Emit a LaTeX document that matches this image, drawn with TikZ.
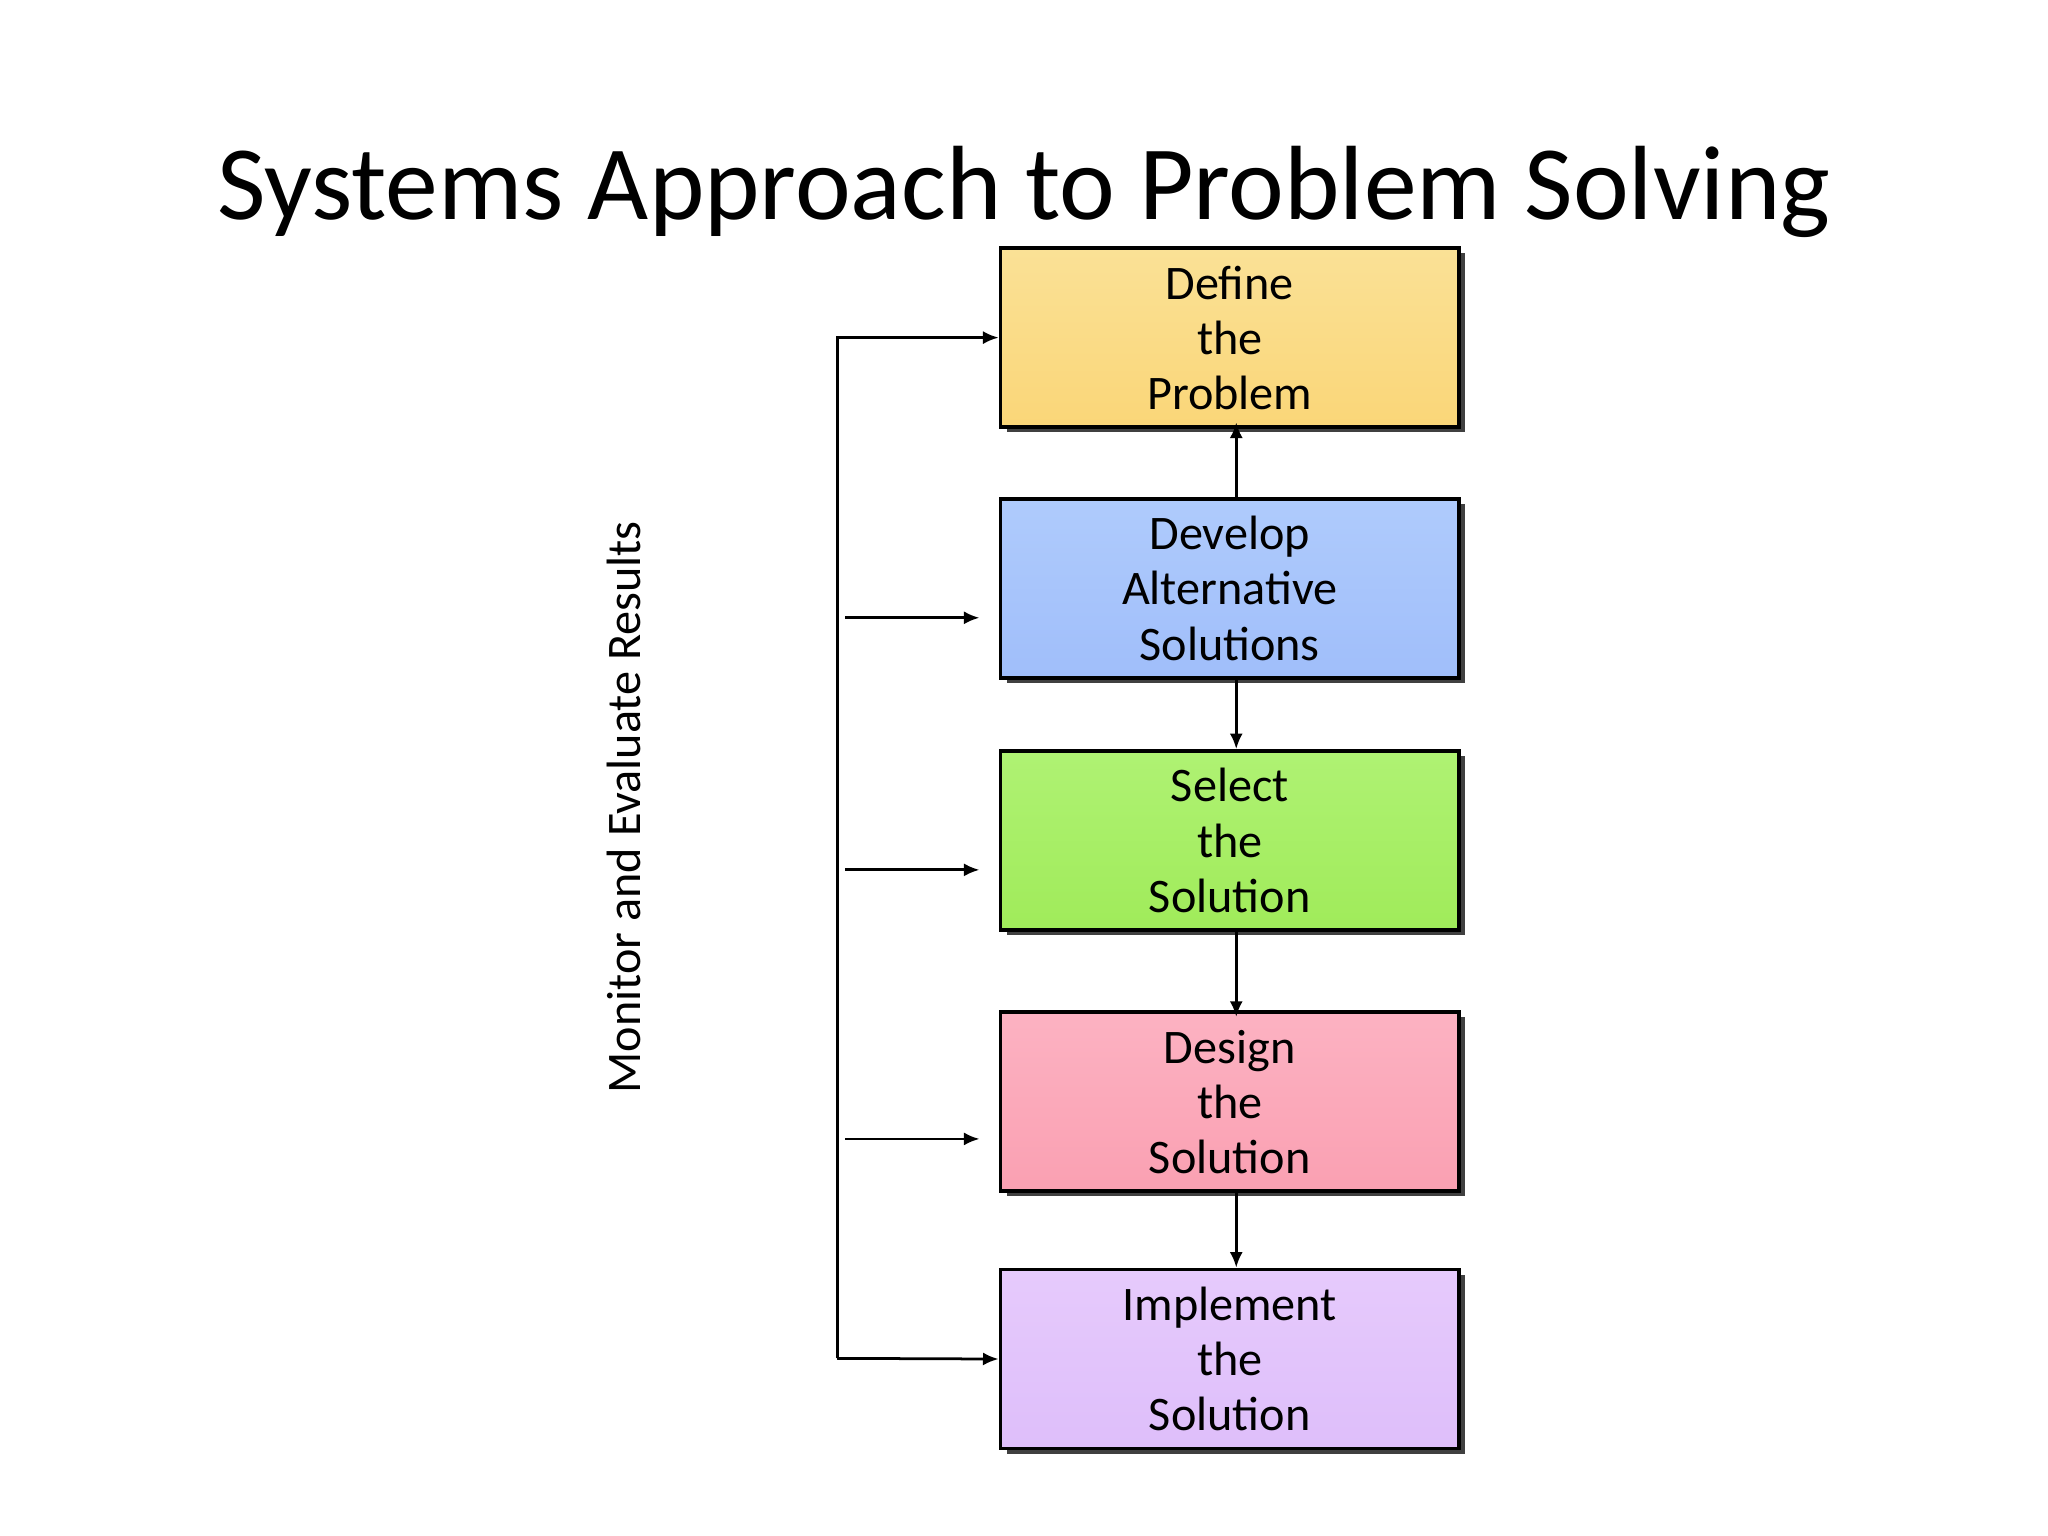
\documentclass[tikz,border=0pt]{standalone}
\usepackage{fontspec}
\setmainfont{Carlito}
\usetikzlibrary{arrows.meta,shadows}
\begin{document}
\begin{tikzpicture}[x=1cm,y=-1cm,
 box/.style={draw=black,line width=0.8pt,minimum width=3.51cm,minimum height=1.37cm,align=center,
   font=\fontsize{10.5pt}{12pt}\selectfont,
   drop shadow={shadow xshift=0.05cm,shadow yshift=-0.04cm,fill=black!75,opacity=1}},
 arr/.style={-{Latex[length=1.2mm,width=1mm]},line width=0.6pt}]
\useasboundingbox (0,0) rectangle (15.68,11.76);
\node[font=\fontsize{23pt}{26pt}\selectfont] (title) at (7.84,1.47) {Systems Approach to Problem Solving};
\node[box,top color={rgb,255:red,250;green,225;blue,150},bottom color={rgb,255:red,250;green,214;blue,120}] (b1) at (9.415,2.585) {Define\\the\\Problem};
\node[box,top color={rgb,255:red,175;green,203;blue,252},bottom color={rgb,255:red,160;green,190;blue,250}] (b2) at (9.415,4.505) {Develop\\Alternative\\Solutions};
\node[box,top color={rgb,255:red,175;green,242;blue,115},bottom color={rgb,255:red,160;green,235;blue,90}] (b3) at (9.415,6.435) {Select\\the\\Solution};
\node[box,top color={rgb,255:red,252;green,178;blue,194},bottom color={rgb,255:red,250;green,160;blue,178}] (b4) at (9.415,8.435) {Design\\the\\Solution};
\node[box,top color={rgb,255:red,230;green,202;blue,252},bottom color={rgb,255:red,222;green,190;blue,250}] (b5) at (9.415,10.405) {Implement\\the\\Solution};
\node[rotate=90,font=\fontsize{10.5pt}{12pt}\selectfont] (mon) at (4.78,6.18) {Monitor and Evaluate Results};
\coordinate (t1) at (6.41,2.585);
\coordinate (t5) at (6.41,10.40);
\draw[arr] (t5) -- (t1) -- (b1.west);
\draw[arr] (t5) -- (b5.west);
\coordinate (s2) at (6.47,4.73); \coordinate (e2) at (7.50,4.73);
\coordinate (s3) at (6.47,6.66); \coordinate (e3) at (7.50,6.66);
\coordinate (s4) at (6.47,8.72); \coordinate (e4) at (7.50,8.72);
\draw[arr] (s2) -- (e2);
\draw[arr] (s3) -- (e3);
\draw[arr] (s4) -- (e4);
\draw[arr] ([xshift=0.05cm]b2.north) -- ([xshift=0.05cm,yshift=0.05cm]b1.south);
\draw[arr] ([xshift=0.05cm]b2.south) -- ([xshift=0.05cm]b3.north);
\draw[arr] ([xshift=0.05cm]b3.south) -- ([xshift=0.05cm,yshift=-0.05cm]b4.north);
\draw[arr] ([xshift=0.05cm]b4.south) -- ([xshift=0.05cm]b5.north);
\end{tikzpicture}
\end{document}
